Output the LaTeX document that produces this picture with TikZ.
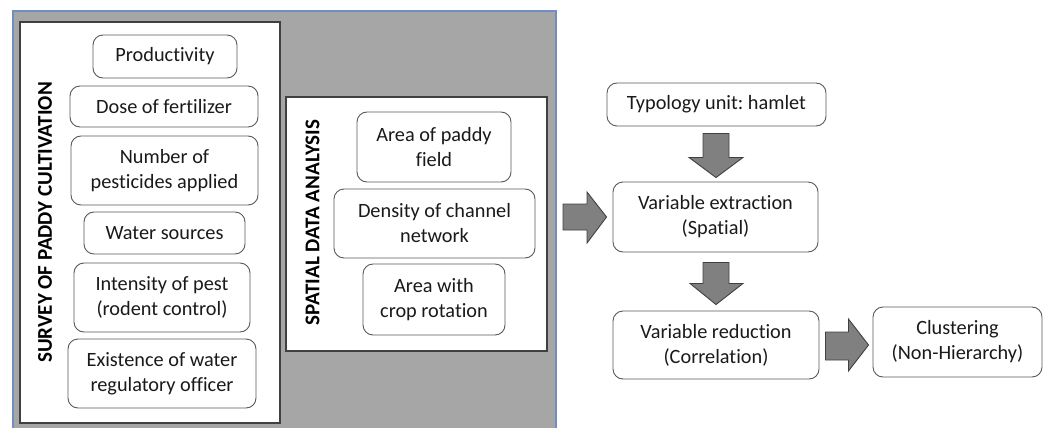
\documentclass[tikz,border=0pt]{standalone}
\usepackage{fontspec}
\setmainfont[Ligatures=NoCommon]{Carlito}
\usetikzlibrary{calc}
\definecolor{bgray}{HTML}{A6A6A6}
\definecolor{bblue}{HTML}{6F8FC0}
\definecolor{agray}{HTML}{808080}
\definecolor{txt}{HTML}{1A1A1A}
\tikzset{
  panel/.style={draw=black!75, line width=1.4pt, fill=white},
  item/.style={draw=black!65, line width=0.9pt, rounded corners=10pt, fill=white,
    align=center, inner sep=2pt, font=\fontsize{20.3}{25}\selectfont, text=txt},
  ttl/.style={rotate=90, font=\bfseries\fontsize{21}{24}\selectfont, text=black},
  barrow/.style={draw=black!75, line width=0.9pt, fill=agray, line join=miter},
}
\frenchspacing
\begin{document}
\begin{tikzpicture}[x=1pt,y=-1pt]
\useasboundingbox (0,0) rectangle (1049,428);
% grey background panel
\fill[bgray] (13,11) rectangle (556,430);
\draw[bblue, line width=1.4pt] (13,430) -- (13,11) -- (556,11) -- (556,430);
% white panels
\draw[panel] (20,22) rectangle (280,423);
\draw[panel] (286,97) rectangle (547,351);
% titles
\node[ttl] (t1) at (45,222.5) {SURVEY OF PADDY CULTIVATION};
\node[ttl] (t2) at (312.5,222.5) {SPATIAL DATA ANALYSIS};
% survey items
\node[item, minimum width=144pt, minimum height=43pt] (prod) at (165,56.5) {Productivity};
\node[item, minimum width=188pt, minimum height=41pt] (dose) at (164,106.5) {Dose of fertilizer};
\node[item, minimum width=187pt, minimum height=69pt] (num) at (164.5,170.5) {Number of\\pesticides applied};
\node[item, minimum width=161pt, minimum height=42pt] (water) at (164.5,233) {Water sources};
\node[item, minimum width=176pt, minimum height=69pt] (pest) at (162,297.5) {Intensity of pest\\(rodent control)};
\node[item, minimum width=188pt, minimum height=69pt] (exist) at (162,373.5) {Existence of water\\regulatory officer};
% spatial items
\node[item, minimum width=154pt, minimum height=70pt] (area) at (434,147) {Area of paddy\\field};
\node[item, minimum width=201pt, minimum height=69pt] (dens) at (434.5,223.5) {Density of channel\\network};
\node[item, minimum width=142pt, minimum height=71pt] (crop) at (434,299.5) {Area with\\crop rotation};
% right flow
\node[item, minimum width=219pt, minimum height=43pt] (typ) at (716.5,104.5) {Typology unit: hamlet};
\node[item, minimum width=205pt, minimum height=70pt] (ext) at (715.5,217) {Variable extraction\\(Spatial)};
\node[item, minimum width=206pt, minimum height=68pt] (red) at (716,345) {Variable reduction\\(Correlation)};
\node[item, minimum width=169pt, minimum height=70pt] (clu) at (957.5,342) {Clustering\\(Non-Hierarchy)};
% block arrows
% typ -> ext
\coordinate (a1t) at ($(typ.south)+(-0.5,7)$);
\coordinate (a1b) at ($(ext.north)+(0.5,-4)$);
\draw[barrow] ($(a1t)+(-13,0)$) -- ($(a1t)+(13,0)$) -- ($(a1t)+(13,24)$) -- ($(a1t)+(27,24)$)
  -- (a1b) -- ($(a1t)+(-27,24)$) -- ($(a1t)+(-13,24)$) -- cycle;
% ext -> red
\coordinate (a2t) at ($(ext.south)+(0.5,10)$);
\coordinate (a2b) at ($(red.north)+(0,-6)$);
\draw[barrow] ($(a2t)+(-13,0)$) -- ($(a2t)+(13,0)$) -- ($(a2t)+(13,21)$) -- ($(a2t)+(27,21)$)
  -- (a2b) -- ($(a2t)+(-26,21)$) -- ($(a2t)+(-13,21)$) -- cycle;
% panel -> ext
\coordinate (a3l) at (563,217);
\coordinate (a3r) at ($(ext.west)+(-6,0)$);
\draw[barrow] ($(a3l)+(0,-13)$) -- ($(a3l)+(24,-13)$) -- ($(a3l)+(24,-25)$) -- (a3r)
  -- ($(a3l)+(24,26)$) -- ($(a3l)+(24,13)$) -- ($(a3l)+(0,13)$) -- cycle;
% red -> clu
\coordinate (a4l) at ($(red.east)+(6,1)$);
\coordinate (a4r) at ($(clu.west)+(-4,3)$);
\draw[barrow] ($(a4l)+(0,-14)$) -- ($(a4l)+(23,-14)$) -- ($(a4l)+(23,-27)$) -- (a4r)
  -- ($(a4l)+(23,25)$) -- ($(a4l)+(23,14)$) -- ($(a4l)+(0,14)$) -- cycle;
\end{tikzpicture}
\end{document}
